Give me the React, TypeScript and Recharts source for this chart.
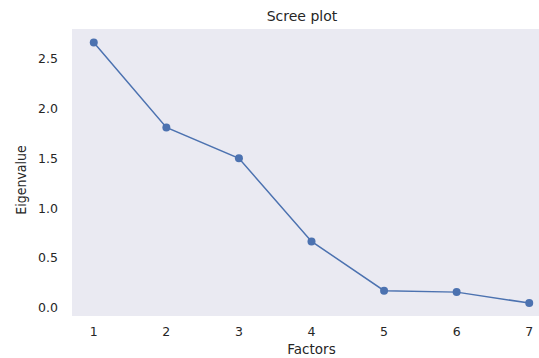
import { LineChart, Line, XAxis, YAxis, CartesianGrid } from "recharts";

const factors = [1, 2, 3, 4, 5, 6, 7];
const eigenvalues = [2.665, 1.81, 1.5, 0.665, 0.17, 0.155, 0.045];
const yTicks = [0, 0.5, 1.0, 1.5, 2.0, 2.5];

const data = factors.map((f, i) => ({ factor: f, value: eigenvalues[i] }));

const TEXT = "#262626";
const FONT = "DejaVu Sans, sans-serif";

export default function App() {
  return (
    <div
      style={{
        position: "absolute",
        left: 0,
        top: 0,
        width: 539,
        height: 358,
        overflow: "hidden",
        background: "#fff",
      }}
    >
      <div
        style={{
          position: "absolute",
          left: 0,
          width: 604,
          top: 8,
          textAlign: "center",
          fontFamily: FONT,
          fontSize: 14,
          color: TEXT,
          lineHeight: "17px",
        }}
      >
        Scree plot
      </div>
      <LineChart
        width={560}
        height={358}
        data={data}
        margin={{ top: 29, right: 9, bottom: 0, left: 0 }}
      >
        <CartesianGrid fill="#EAEAF2" stroke="none" horizontal={false} vertical={false} />
        <XAxis
          dataKey="factor"
          type="number"
          domain={[0.7, 7.3]}
          ticks={factors}
          axisLine={false}
          tickLine={false}
          tickMargin={5}
          height={42}
          tick={{ fill: TEXT, fontSize: 12.5, fontFamily: FONT }}
          label={{
            value: "Factors",
            position: "insideBottom",
            offset: 4,
            fill: TEXT,
            fontSize: 13.5,
            fontFamily: FONT,
          }}
        />
        <YAxis
          type="number"
          domain={[-0.085, 2.8]}
          ticks={yTicks}
          tickFormatter={(v: number) => v.toFixed(1)}
          axisLine={false}
          tickLine={false}
          tickMargin={8}
          width={72}
          tick={{ fill: TEXT, fontSize: 12.5, fontFamily: FONT }}
          label={{
            content: () => (
              <text
                x={21}
                y={180}
                transform="rotate(-90, 21, 180)"
                textAnchor="middle"
                dominantBaseline="central"
                fill={TEXT}
                fontSize={14}
                fontFamily="DejaVu Sans Condensed, DejaVu Sans, sans-serif"
                fontStretch="condensed"
              >
                Eigenvalue
              </text>
            ),
          }}
        />
        <Line
          type="linear"
          dataKey="value"
          stroke="#4C72B0"
          strokeWidth={1.5}
          dot={{ r: 4, fill: "#4C72B0", stroke: "#4C72B0", strokeWidth: 0 }}
          isAnimationActive={false}
        />
      </LineChart>
    </div>
  );
}
